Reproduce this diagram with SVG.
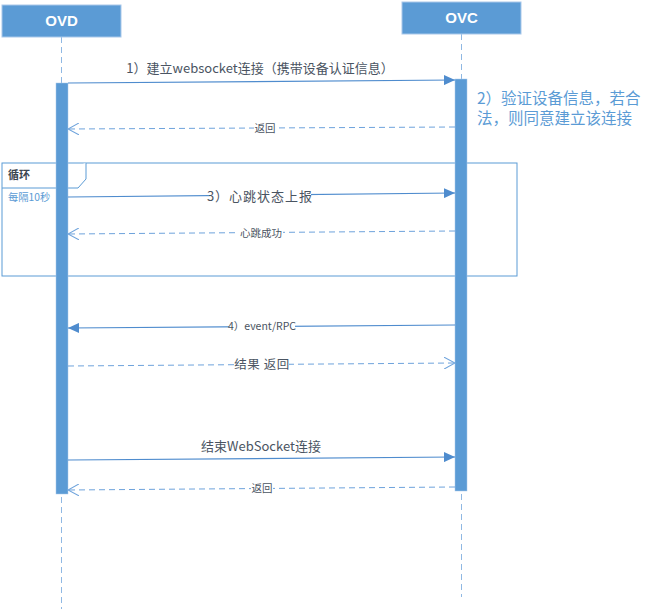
<svg xmlns="http://www.w3.org/2000/svg" width="655" height="609" viewBox="0 0 655 609">
<defs>
<style>
.hdr{fill:#5b9bd5;stroke:#a9c8ea;stroke-width:1}
.hdrt{font-family:"Liberation Sans","Noto Sans",sans-serif;font-weight:bold;font-size:15px;fill:#ffffff;text-anchor:middle}
.life{stroke:#8fb8e3;stroke-width:1;stroke-dasharray:6,4;fill:none}
.act{fill:#5b9bd5;stroke:#a9c8ea;stroke-width:0.5}
.msg{stroke:#4f8cce;stroke-width:1.2;fill:none}
.ret{stroke:#6ea3dc;stroke-width:1;stroke-dasharray:6,4;fill:none}
.lbl{font-family:"Noto Sans CJK SC","Liberation Sans",sans-serif;fill:#4a5462;text-anchor:middle}
.bg{fill:#ffffff}
.frame{fill:none;stroke:#5b9bd5;stroke-width:1}
.note{font-family:"Noto Sans CJK SC","Liberation Sans",sans-serif;fill:#5b9bd5;font-size:15.5px}
</style>
<marker id="fill" markerWidth="12" markerHeight="10" refX="11" refY="5" orient="auto" markerUnits="userSpaceOnUse">
<path d="M0,0 L11,5 L0,10 Z" fill="#4f8cce"/>
</marker>
<marker id="open" markerWidth="12" markerHeight="12" refX="11" refY="6" orient="auto" markerUnits="userSpaceOnUse">
<path d="M0,0 L11,6 L0,12" fill="none" stroke="#6ea3dc" stroke-width="1"/>
</marker>
</defs>
<rect width="655" height="609" fill="#ffffff"/>

<g id="lifelines">
<line class="life" x1="61.5" y1="37" x2="61.5" y2="609"/>
<line class="life" x1="461.5" y1="34" x2="461.5" y2="597"/>
</g>

<g id="OVD">
<rect class="hdr" x="2" y="5" width="119" height="32"/>
<text class="hdrt" x="61.5" y="26">OVD</text>
</g>
<g id="OVC">
<rect class="hdr" x="402" y="2" width="119" height="32"/>
<text class="hdrt" x="461.5" y="23">OVC</text>
</g>

<g id="loop">
<rect class="frame" x="2" y="163" width="515" height="113"/>
<path d="M2,188 L78,188 L86,179 L86,163" fill="#ffffff" stroke="#5b9bd5" stroke-width="1"/>
<text x="8" y="179" font-family="Noto Sans CJK SC,sans-serif" font-weight="bold" font-size="11" fill="#3c4650">循环</text>
<text x="8" y="201" font-family="Noto Sans CJK SC,sans-serif" font-size="10.3" fill="#5b9bd5">每隔10秒</text>
</g>

<g id="activations">
<rect class="act" x="56" y="83" width="12" height="411"/>
<rect class="act" x="455" y="79" width="12" height="412"/>
</g>

<g id="note">
<text class="note" x="477" y="104">2）验证设备信息，若合</text>
<text class="note" x="477" y="124">法，则同意建立该连接</text>
</g>

<g id="connectors">
<line class="msg" x1="68" y1="83" x2="455" y2="80" marker-end="url(#fill)"/>
<line class="ret" x1="455" y1="127" x2="68" y2="129" marker-end="url(#open)"/>
<line class="msg" x1="68" y1="197" x2="455" y2="193" marker-end="url(#fill)"/>
<line class="ret" x1="455" y1="231" x2="68" y2="234" marker-end="url(#open)"/>
<line class="msg" x1="455" y1="325" x2="68" y2="328" marker-end="url(#fill)"/>
<line class="ret" x1="68" y1="366" x2="455" y2="363" marker-end="url(#open)"/>
<line class="msg" x1="68" y1="460" x2="455" y2="457" marker-end="url(#fill)"/>
<line class="ret" x1="455" y1="487" x2="68" y2="490" marker-end="url(#open)"/>
</g>

<g id="labels">
<text class="lbl" x="260" y="73" font-size="13">1）建立websocket连接（携带设备认证信息）</text>
<rect class="bg" x="254" y="122" width="22" height="12"/>
<text class="lbl" x="265" y="132" font-size="10.5">返回</text>
<rect class="bg" x="210" y="188" width="101" height="16"/>
<text class="lbl" x="260" y="201" font-size="13" letter-spacing="1">3）心跳状态上报</text>
<rect class="bg" x="239" y="226" width="44" height="13"/>
<text class="lbl" x="261" y="237" font-size="10.5">心跳成功</text>
<rect class="bg" x="229" y="320" width="66" height="12"/>
<text class="lbl" x="262" y="330" font-size="10.5">4）event/RPC</text>
<rect class="bg" x="234" y="357" width="55" height="15"/>
<text class="lbl" x="262" y="369" font-size="12.5" letter-spacing="0.5">结果 返回</text>
<text class="lbl" x="261" y="451" font-size="13">结束WebSocket连接</text>
<rect class="bg" x="251" y="482" width="22" height="12"/>
<text class="lbl" x="262" y="492" font-size="10.5">返回</text>
</g>
</svg>
